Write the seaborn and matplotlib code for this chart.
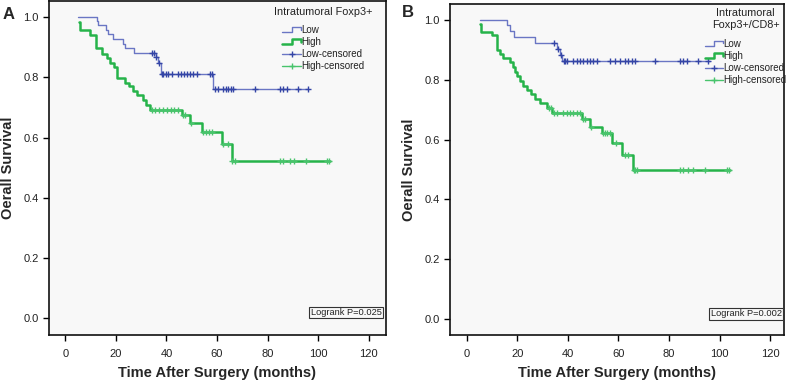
import numpy as np
import pandas as pd
import matplotlib
matplotlib.use("Agg")
import matplotlib.pyplot as plt
import seaborn as sns
from matplotlib.legend_handler import HandlerBase
from matplotlib.lines import Line2D

# ---------------- data ----------------
x_ticks = [0, 20, 40, 60, 80, 100, 120]
y_ticks = [0.0, 0.2, 0.4, 0.6, 0.8, 1.0]
legend_labels = ["Low", "High", "Low-censored", "High-censored"]

# Panel A : Intratumoral Foxp3+
A_low_start = (5.2, 1.0)
A_low_t = [12.4, 13.0, 16.0, 17.0, 19.0, 22.9, 23.6, 27.3, 35.7, 36.8, 37.9, 58.5]
A_low_s = [0.988, 0.974, 0.958, 0.945, 0.928, 0.912, 0.897, 0.880, 0.866, 0.849, 0.812, 0.762]
A_low_end = 96.1
A_low_cens = [34.2, 35.1, 35.9, 36.9, 38.3, 38.8, 39.7, 40.8, 42.1, 44.6, 45.8, 47.0, 48.2,
              49.4, 50.6, 52.0, 57.2, 57.9, 59.2, 60.5, 62.5, 63.6, 64.5, 65.4, 66.5, 75.0,
              84.9, 86.2, 87.8, 92.2, 96.1]

A_high_start = (5.4, 0.985)
A_high_t = [5.7, 9.8, 12.0, 14.4, 16.4, 17.7, 19.4, 20.3, 23.6, 25.2, 26.9, 28.2, 30.9,
            31.9, 33.5, 46.3, 49.3, 54.0, 61.9, 65.8]
A_high_s = [0.958, 0.941, 0.897, 0.877, 0.864, 0.847, 0.833, 0.797, 0.781, 0.770, 0.755,
            0.742, 0.725, 0.709, 0.692, 0.675, 0.648, 0.617, 0.579, 0.524]
A_high_end = 104.5
A_high_cens = [34.2, 35.5, 37.2, 38.8, 40.1, 41.7, 43.0, 44.7, 46.6, 47.3, 49.8, 54.3, 55.7,
               57.0, 57.9, 62.5, 64.5, 66.0, 67.0, 84.9, 86.0, 88.9, 90.5, 95.2, 103.4, 104.4]

# Panel B : Intratumoral Foxp3+/CD8+
B_low_start = (5.3, 1.0)
B_low_t = [16.1, 17.1, 18.8, 27.0, 35.8, 36.9, 37.6]
B_low_s = [0.983, 0.963, 0.944, 0.925, 0.905, 0.883, 0.863]
B_low_end = 96.2
B_low_cens = [34.6, 36.1, 37.2, 38.3, 38.9, 39.8, 42.2, 43.5, 44.8, 46.1, 47.5, 48.8, 50.1,
              51.4, 56.7, 58.7, 60.6, 62.6, 63.9, 65.3, 66.6, 74.5, 84.4, 85.7, 87.3, 91.6, 95.6]

B_high_start = (5.3, 0.989)
B_high_t = [5.6, 9.9, 11.9, 13.2, 14.5, 17.1, 18.4, 19.1, 20.0, 21.1, 22.4, 23.8, 25.3,
            27.0, 28.8, 31.7, 33.6, 45.5, 48.6, 53.4, 57.6, 61.3, 65.9]
B_high_s = [0.961, 0.950, 0.900, 0.889, 0.875, 0.861, 0.844, 0.827, 0.813, 0.796, 0.779,
            0.766, 0.753, 0.738, 0.723, 0.705, 0.688, 0.671, 0.643, 0.621, 0.588, 0.548, 0.498]
B_high_end = 104.2
B_high_cens = [32.4, 33.2, 34.5, 35.6, 38.2, 39.5, 40.8, 42.2, 43.5, 44.8, 46.0, 46.9, 49.0,
               54.0, 54.7, 55.6, 56.7, 59.1, 62.6, 63.9, 66.1, 66.6, 67.2, 84.4, 85.4, 87.7,
               89.6, 94.2, 102.8, 103.9]

panel_titles = ["Intratumoral Foxp3+", "Intratumoral\nFoxp3+/CD8+"]
logrank_text = ["Logrank P=0.025", "Logrank P=0.002"]
panel_letters = ["A", "B"]

# ---------------- style ----------------
sns.set_style("ticks")
plt.rcParams["font.family"] = ["Liberation Sans", "DejaVu Sans"]

C_LOW = "#6a76c4"
C_LOW_CENS = "#3445a6"
C_HIGH = "#26b34a"
C_HIGH_CENS = "#48c46c"
BG = "#f8f8f8"


def curve_frame(start, times, levels, end_t):
    x = [start[0]] + list(times) + [end_t]
    y = [start[1]] + list(levels) + [levels[-1]]
    return pd.DataFrame({"t": x, "s": y})


def cens_frame(start, times, levels, cens):
    idx = np.searchsorted(np.asarray(times), np.asarray(cens), side="right")
    lv = np.array([start[1]] + list(levels))
    return pd.DataFrame({"t": cens, "s": lv[idx]})


class StepHandler(HandlerBase):
    def create_artists(self, legend, orig_handle, xdescent, ydescent, width, height,
                       fontsize, trans):
        xs = np.array([0.0, 0.5, 0.5, 1.0, 1.0]) * width - xdescent
        ys = np.array([0.1, 0.1, 0.9, 0.9, 0.5]) * height - ydescent
        ln = Line2D(xs, ys, color=orig_handle.get_color(),
                    linewidth=orig_handle.get_linewidth())
        ln.set_transform(trans)
        return [ln]


fig = plt.figure(figsize=(7.87, 3.83), dpi=100)
W, H = 787.0, 383.0
axA = fig.add_axes([49 / W, (H - 335) / H, 336.7 / W, 334.5 / H])
axB = fig.add_axes([450 / W, (H - 335) / H, 334.0 / W, 331.0 / H])

panels = [
    (axA, (A_low_start, A_low_t, A_low_s, A_low_end, A_low_cens),
     (A_high_start, A_high_t, A_high_s, A_high_end, A_high_cens), (-6.45, 126.7)),
    (axB, (B_low_start, B_low_t, B_low_s, B_low_end, B_low_cens),
     (B_high_start, B_high_t, B_high_s, B_high_end, B_high_cens), (-6.6, 125.5)),
]

legend_pos = [(0.815, 1.003), (0.885, 1.012)]
legend_sep = [5.5, 6.5]
logrank_pos = [(0.988, 0.054), (0.993, 0.051)]

for i, (ax, low, high, xlim) in enumerate(panels):
    ax.set_facecolor(BG)
    lo_df = curve_frame(low[0], low[1], low[2], low[3])
    hi_df = curve_frame(high[0], high[1], high[2], high[3])
    sns.lineplot(data=lo_df, x="t", y="s", ax=ax, drawstyle="steps-post", estimator=None,
                 sort=False, color=C_LOW, linewidth=1.0, legend=False)
    sns.lineplot(data=hi_df, x="t", y="s", ax=ax, drawstyle="steps-post", estimator=None,
                 sort=False, color=C_HIGH, linewidth=1.8, legend=False)
    lo_c = cens_frame(low[0], low[1], low[2], low[4])
    hi_c = cens_frame(high[0], high[1], high[2], high[4])
    sns.scatterplot(data=lo_c, x="t", y="s", ax=ax, marker="+", s=16, linewidth=1.0,
                    color=C_LOW_CENS, legend=False, zorder=4)
    sns.scatterplot(data=hi_c, x="t", y="s", ax=ax, marker="+", s=16, linewidth=1.0,
                    color=C_HIGH_CENS, legend=False, zorder=4)

    ax.set_xlim(*xlim)
    ax.set_ylim(-0.055, 1.055)
    ax.set_xticks(x_ticks)
    ax.set_yticks(y_ticks)
    ax.set_yticklabels([f"{v:.1f}" for v in y_ticks])
    ax.tick_params(axis="both", direction="out", length=4, width=1, color="black",
                   labelsize=8, labelcolor="#222222")
    ax.tick_params(axis="x", pad=6)
    ax.tick_params(axis="y", pad=3.5)
    for sp in ax.spines.values():
        sp.set_visible(True)
        sp.set_color("#111111")
        sp.set_linewidth(1.2)
    ax.set_xlabel("Time After Surgery (months)", fontsize=10.5, fontweight="bold",
                  labelpad=5)
    ax.set_ylabel("Oerall Survival", fontsize=10.5, fontweight="bold", labelpad=6)

    h_low = Line2D([], [], color=C_LOW, linewidth=1.0)
    h_high = Line2D([], [], color=C_HIGH, linewidth=1.8)
    h_lc = Line2D([], [], color=C_LOW, linewidth=1.0, marker="+", markersize=5,
                  markeredgecolor=C_LOW_CENS)
    h_hc = Line2D([], [], color=C_HIGH_CENS, linewidth=1.0, marker="+", markersize=5,
                  markeredgecolor=C_HIGH_CENS)
    leg = ax.legend([h_low, h_high, h_lc, h_hc], legend_labels,
                    handler_map={h_low: StepHandler(), h_high: StepHandler()},
                    title=panel_titles[i], loc="upper center",
                    bbox_to_anchor=legend_pos[i], frameon=False, fontsize=7,
                    title_fontsize=7.8, handlelength=1.9, handletextpad=0.05,
                    labelspacing=0.22, borderpad=0.3, numpoints=1)
    leg._legend_box.sep = legend_sep[i]
    leg.get_title().set_multialignment("center")
    leg.get_title().set_linespacing(1.25)
    leg.get_title().set_color("#222222")
    for t in leg.get_texts():
        t.set_color("#222222")

    ax.text(*logrank_pos[i], logrank_text[i], transform=ax.transAxes, ha="right",
            va="bottom", fontsize=6.7, color="#222222",
            bbox=dict(boxstyle="square,pad=0.15", fc=BG, ec="#333333", lw=0.8))

fig.text(9 / W, 1 - 14.5 / H, panel_letters[0], fontsize=12, fontweight="bold",
         ha="center", va="center")
fig.text(407.5 / W, 1 - 12.5 / H, panel_letters[1], fontsize=12, fontweight="bold",
         ha="center", va="center")

fig.savefig("out.png", dpi=100)
